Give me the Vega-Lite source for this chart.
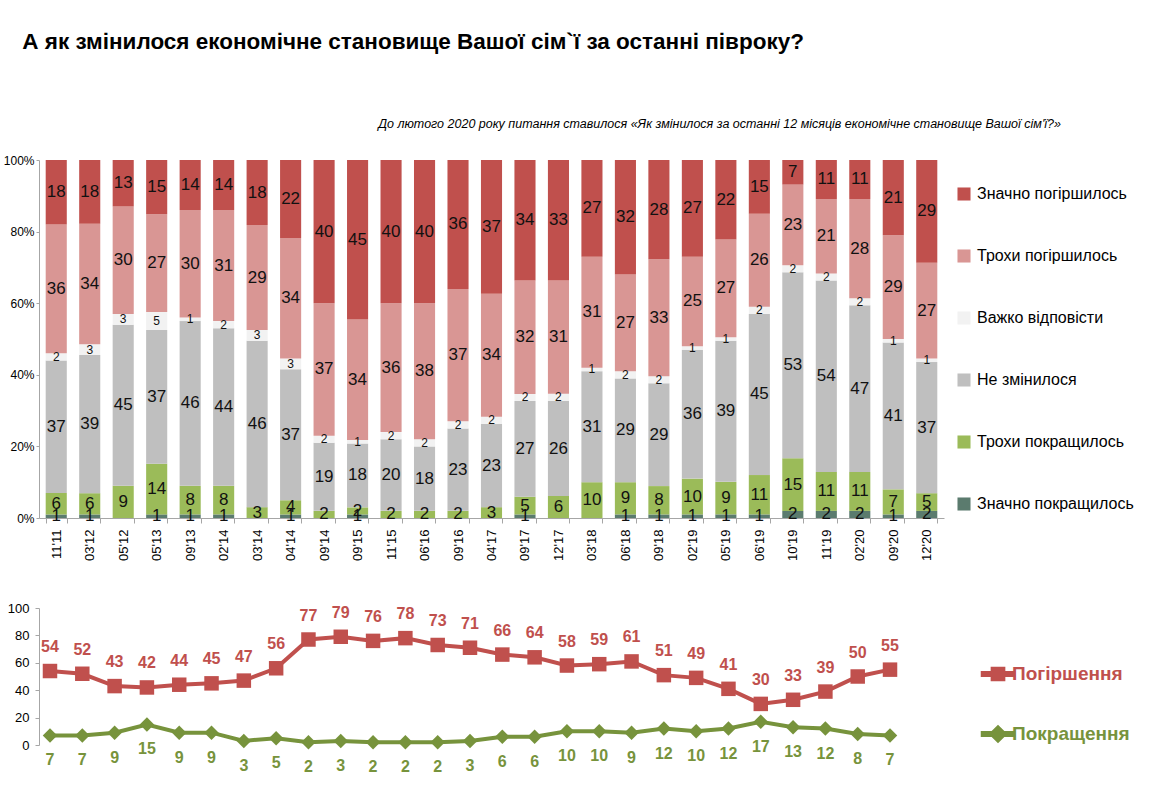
{
  "$schema": "https://vega.github.io/schema/vega-lite/v6.json",
  "background": "white",
  "padding": {"left": 3, "top": 31, "right": 0, "bottom": 0},
  "config": {
    "font": "Liberation Sans",
    "view": {"stroke": null},
    "axis": {"domainColor": "#A6A6A6", "tickColor": "#A6A6A6", "labelColor": "#000000", "grid": false, "title": null}
  },
  "title": {
    "text": "А як змінилося економічне становище Вашої сім`ї за останні півроку?",
    "anchor": "start", "font": "Liberation Sans", "fontSize": 22.5, "fontWeight": "bold",
    "color": "#000000", "offset": 64, "dx": 19
  },
  "datasets": {
    "bars": [
      {"d": "11'11", "Значно покращилось": 1, "Трохи покращилось": 6, "Не змінилося": 37, "Важко відповісти": 2, "Трохи погіршилось": 36, "Значно погіршилось": 18},
      {"d": "03'12", "Значно покращилось": 1, "Трохи покращилось": 6, "Не змінилося": 39, "Важко відповісти": 3, "Трохи погіршилось": 34, "Значно погіршилось": 18},
      {"d": "05'12", "Значно покращилось": 0, "Трохи покращилось": 9, "Не змінилося": 45, "Важко відповісти": 3, "Трохи погіршилось": 30, "Значно погіршилось": 13},
      {"d": "05'13", "Значно покращилось": 1, "Трохи покращилось": 14, "Не змінилося": 37, "Важко відповісти": 5, "Трохи погіршилось": 27, "Значно погіршилось": 15},
      {"d": "09'13", "Значно покращилось": 1, "Трохи покращилось": 8, "Не змінилося": 46, "Важко відповісти": 1, "Трохи погіршилось": 30, "Значно погіршилось": 14},
      {"d": "02'14", "Значно покращилось": 1, "Трохи покращилось": 8, "Не змінилося": 44, "Важко відповісти": 2, "Трохи погіршилось": 31, "Значно погіршилось": 14},
      {"d": "03'14", "Значно покращилось": 0, "Трохи покращилось": 3, "Не змінилося": 46, "Важко відповісти": 3, "Трохи погіршилось": 29, "Значно погіршилось": 18},
      {"d": "04'14", "Значно покращилось": 1, "Трохи покращилось": 4, "Не змінилося": 37, "Важко відповісти": 3, "Трохи погіршилось": 34, "Значно погіршилось": 22},
      {"d": "09'14", "Значно покращилось": 0, "Трохи покращилось": 2, "Не змінилося": 19, "Важко відповісти": 2, "Трохи погіршилось": 37, "Значно погіршилось": 40},
      {"d": "09'15", "Значно покращилось": 1, "Трохи покращилось": 2, "Не змінилося": 18, "Важко відповісти": 1, "Трохи погіршилось": 34, "Значно погіршилось": 45},
      {"d": "11'15", "Значно покращилось": 0, "Трохи покращилось": 2, "Не змінилося": 20, "Важко відповісти": 2, "Трохи погіршилось": 36, "Значно погіршилось": 40},
      {"d": "06'16", "Значно покращилось": 0, "Трохи покращилось": 2, "Не змінилося": 18, "Важко відповісти": 2, "Трохи погіршилось": 38, "Значно погіршилось": 40},
      {"d": "09'16", "Значно покращилось": 0, "Трохи покращилось": 2, "Не змінилося": 23, "Важко відповісти": 2, "Трохи погіршилось": 37, "Значно погіршилось": 36},
      {"d": "04'17", "Значно покращилось": 0, "Трохи покращилось": 3, "Не змінилося": 23, "Важко відповісти": 2, "Трохи погіршилось": 34, "Значно погіршилось": 37},
      {"d": "09'17", "Значно покращилось": 1, "Трохи покращилось": 5, "Не змінилося": 27, "Важко відповісти": 2, "Трохи погіршилось": 32, "Значно погіршилось": 34},
      {"d": "12'17", "Значно покращилось": 0, "Трохи покращилось": 6, "Не змінилося": 26, "Важко відповісти": 2, "Трохи погіршилось": 31, "Значно погіршилось": 33},
      {"d": "03'18", "Значно покращилось": 0, "Трохи покращилось": 10, "Не змінилося": 31, "Важко відповісти": 1, "Трохи погіршилось": 31, "Значно погіршилось": 27},
      {"d": "06'18", "Значно покращилось": 1, "Трохи покращилось": 9, "Не змінилося": 29, "Важко відповісти": 2, "Трохи погіршилось": 27, "Значно погіршилось": 32},
      {"d": "09'18", "Значно покращилось": 1, "Трохи покращилось": 8, "Не змінилося": 29, "Важко відповісти": 2, "Трохи погіршилось": 33, "Значно погіршилось": 28},
      {"d": "02'19", "Значно покращилось": 1, "Трохи покращилось": 10, "Не змінилося": 36, "Важко відповісти": 1, "Трохи погіршилось": 25, "Значно погіршилось": 27},
      {"d": "05'19", "Значно покращилось": 1, "Трохи покращилось": 9, "Не змінилося": 39, "Важко відповісти": 1, "Трохи погіршилось": 27, "Значно погіршилось": 22},
      {"d": "06'19", "Значно покращилось": 1, "Трохи покращилось": 11, "Не змінилося": 45, "Важко відповісти": 2, "Трохи погіршилось": 26, "Значно погіршилось": 15},
      {"d": "10'19", "Значно покращилось": 2, "Трохи покращилось": 15, "Не змінилося": 53, "Важко відповісти": 2, "Трохи погіршилось": 23, "Значно погіршилось": 7},
      {"d": "11'19", "Значно покращилось": 2, "Трохи покращилось": 11, "Не змінилося": 54, "Важко відповісти": 2, "Трохи погіршилось": 21, "Значно погіршилось": 11},
      {"d": "02'20", "Значно покращилось": 2, "Трохи покращилось": 11, "Не змінилося": 47, "Важко відповісти": 2, "Трохи погіршилось": 28, "Значно погіршилось": 11},
      {"d": "09'20", "Значно покращилось": 1, "Трохи покращилось": 7, "Не змінилося": 41, "Важко відповісти": 1, "Трохи погіршилось": 29, "Значно погіршилось": 21},
      {"d": "12'20", "Значно покращилось": 2, "Трохи покращилось": 5, "Не змінилося": 37, "Важко відповісти": 1, "Трохи погіршилось": 27, "Значно погіршилось": 29}
    ],
    "lines": [
      {"d": "11'11", "Погіршення": 54, "Покращення": 7},
      {"d": "03'12", "Погіршення": 52, "Покращення": 7},
      {"d": "05'12", "Погіршення": 43, "Покращення": 9},
      {"d": "05'13", "Погіршення": 42, "Покращення": 15},
      {"d": "09'13", "Погіршення": 44, "Покращення": 9},
      {"d": "02'14", "Погіршення": 45, "Покращення": 9},
      {"d": "03'14", "Погіршення": 47, "Покращення": 3},
      {"d": "04'14", "Погіршення": 56, "Покращення": 5},
      {"d": "09'14", "Погіршення": 77, "Покращення": 2},
      {"d": "09'15", "Погіршення": 79, "Покращення": 3},
      {"d": "11'15", "Погіршення": 76, "Покращення": 2},
      {"d": "06'16", "Погіршення": 78, "Покращення": 2},
      {"d": "09'16", "Погіршення": 73, "Покращення": 2},
      {"d": "04'17", "Погіршення": 71, "Покращення": 3},
      {"d": "09'17", "Погіршення": 66, "Покращення": 6},
      {"d": "12'17", "Погіршення": 64, "Покращення": 6},
      {"d": "03'18", "Погіршення": 58, "Покращення": 10},
      {"d": "06'18", "Погіршення": 59, "Покращення": 10},
      {"d": "09'18", "Погіршення": 61, "Покращення": 9},
      {"d": "02'19", "Погіршення": 51, "Покращення": 12},
      {"d": "05'19", "Погіршення": 49, "Покращення": 10},
      {"d": "06'19", "Погіршення": 41, "Покращення": 12},
      {"d": "10'19", "Погіршення": 30, "Покращення": 17},
      {"d": "11'19", "Погіршення": 33, "Покращення": 13},
      {"d": "02'20", "Погіршення": 39, "Покращення": 12},
      {"d": "09'20", "Погіршення": 50, "Покращення": 8},
      {"d": "12'20", "Погіршення": 55, "Покращення": 7}
    ]
  },
  "bounds": "flush",
  "spacing": 90,
  "resolve": {"scale": {"x": "independent", "y": "independent", "color": "independent"}, "legend": {"color": "independent"}},
  "vconcat": [
    {
      "width": 905,
      "height": 358,
      "title": {
        "text": "До лютого 2020 року питання ставилося «Як змінилося за останні 12 місяців економічне становище Вашої сім'ї?»",
        "anchor": "end", "frame": "group", "font": "Liberation Sans", "fontSize": 12.5, "fontStyle": "italic", "fontWeight": "normal",
        "color": "#000000", "dx": 117, "offset": 24
      },
      "data": {"name": "bars"},
      "transform": [
        {"fold": ["Значно покращилось", "Трохи покращилось", "Не змінилося", "Важко відповісти", "Трохи погіршилось", "Значно погіршилось"], "as": ["cat", "v"]},
        {"calculate": "indexof(['Значно покращилось', 'Трохи покращилось', 'Не змінилося', 'Важко відповісти', 'Трохи погіршилось', 'Значно погіршилось'], datum.cat)", "as": "ord"},
        {"stack": "v", "groupby": ["d"], "sort": [{"field": "ord", "order": "ascending"}], "offset": "normalize", "as": ["s0", "s1"]},
        {"calculate": "(datum.s0 + datum.s1) / 2", "as": "mid"}
      ],
      "encoding": {
        "x": {
          "field": "d", "type": "ordinal", "sort": null,
          "scale": {"paddingInner": 0.37, "paddingOuter": 0.2},
          "axis": {"labelAngle": -90, "labelFontSize": 13, "tickBand": "extent", "tickSize": 5, "labelPadding": 6}
        }
      },
      "layer": [
        {
          "mark": {"type": "bar"},
          "encoding": {
            "y": {
              "field": "s0", "type": "quantitative", "scale": {"domain": [0, 1]},
              "axis": {"values": [0, 0.1, 0.2, 0.3, 0.4, 0.5, 0.6, 0.7, 0.8, 0.9, 1], "format": ".0%", "labelFontSize": 12, "tickSize": 3, "labelPadding": 2}
            },
            "y2": {"field": "s1"},
            "color": {
              "field": "cat", "type": "nominal",
              "scale": {
                "domain": ["Значно погіршилось", "Трохи погіршилось", "Важко відповісти", "Не змінилося", "Трохи покращилось", "Значно покращилось"],
                "range": ["#C0504D", "#D99694", "#F2F2F2", "#BFBFBF", "#9BBB59", "#5B7B6E"]
              },
              "legend": {
                "orient": "none", "legendX": 917, "legendY": 26, "title": null,
                "symbolType": "square", "symbolSize": 170, "labelFontSize": 16, "rowPadding": 46, "labelOffset": 5, "labelColor": "#000000", "labelLimit": 300
              }
            }
          }
        },
        {
          "transform": [{"filter": "datum.v > 0"}],
          "mark": {"type": "text", "font": "Liberation Sans", "color": "#111111"},
          "encoding": {
            "y": {"field": "mid", "type": "quantitative"},
            "text": {"field": "v", "type": "quantitative"},
            "size": {"condition": {"test": "datum.cat === 'Важко відповісти'", "value": 12}, "value": 17}
          }
        }
      ]
    },
    {
      "width": 862,
      "height": 137,
      "data": {"name": "lines"},
      "transform": [{"fold": ["Погіршення", "Покращення"], "as": ["s", "val"]}],
      "encoding": {
        "x": {"field": "d", "type": "ordinal", "sort": null, "scale": {"type": "point", "padding": 0.34}, "axis": null},
        "y": {
          "field": "val", "type": "quantitative", "scale": {"domain": [0, 100]},
          "axis": {"values": [0, 20, 40, 60, 80, 100], "labelFontSize": 13, "tickSize": 4, "labelPadding": 6}
        },
        "color": {
          "field": "s", "type": "nominal",
          "scale": {"domain": ["Погіршення", "Покращення"], "range": ["#C0504D", "#77933C"]},
          "legend": {
            "orient": "none", "legendX": 947, "legendY": 54, "title": null,
            "symbolSize": 484, "labelFontSize": 19, "labelFontWeight": "bold", "rowPadding": 38, "labelOffset": 2,
            "encode": {
              "symbols": {"update": {
                "shape": {"signal": "datum.value === 'Погіршення' ? 'M-1.5,-0.2H-0.6V-0.6H0.6V-0.2H1.5V0.2H0.6V0.6H-0.6V0.2H-1.5Z' : 'M-1.5,-0.2H-0.55L0,-0.75L0.55,-0.2H1.5V0.2H0.55L0,0.75L-0.55,0.2H-1.5Z'"},
                "fill": {"signal": "datum.value === 'Погіршення' ? '#C0504D' : '#77933C'"},
                "stroke": {"value": "transparent"},
                "opacity": {"value": 1}
              }},
              "labels": {"update": {"fill": {"signal": "datum.value === 'Погіршення' ? '#C0504D' : '#77933C'"}}}
            }
          }
        }
      },
      "layer": [
        {"mark": {"type": "line", "strokeWidth": 4}},
        {
          "mark": {"type": "point", "filled": true, "opacity": 1, "size": 210},
          "encoding": {"shape": {"field": "s", "type": "nominal", "scale": {"domain": ["Погіршення", "Покращення"], "range": ["square", "diamond"]}, "legend": null}}
        },
        {
          "transform": [{"filter": "datum.s === 'Погіршення'"}],
          "mark": {"type": "text", "dy": -24, "font": "Liberation Sans", "fontWeight": "bold", "fontSize": 16},
          "encoding": {"text": {"field": "val", "type": "quantitative"}}
        },
        {
          "transform": [{"filter": "datum.s === 'Покращення'"}],
          "mark": {"type": "text", "dy": 25, "font": "Liberation Sans", "fontWeight": "bold", "fontSize": 16},
          "encoding": {"text": {"field": "val", "type": "quantitative"}}
        }
      ]
    }
  ]
}
